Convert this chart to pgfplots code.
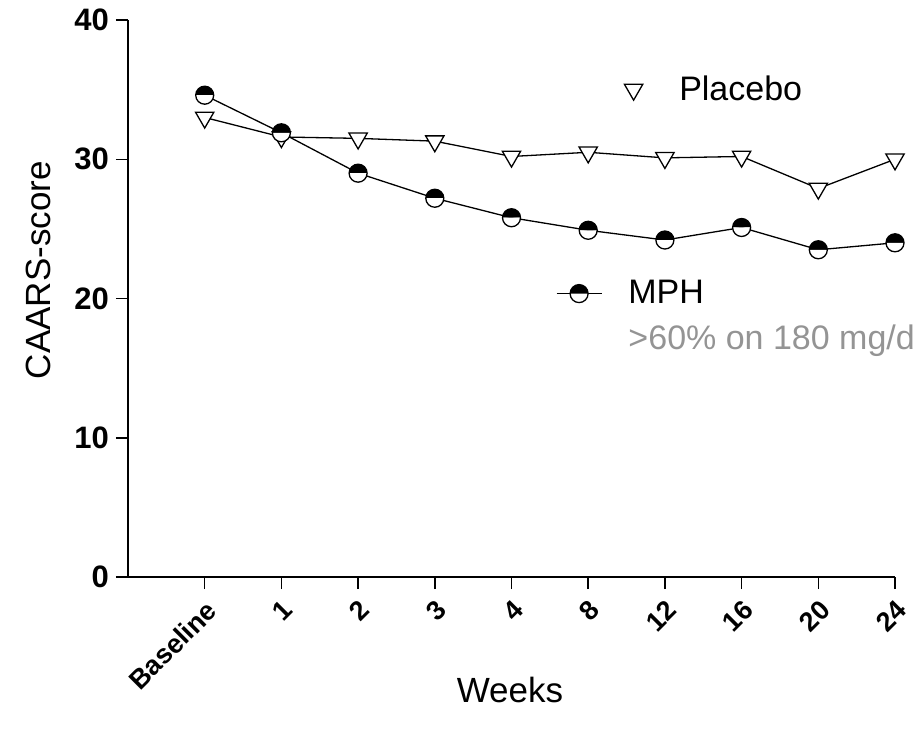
\documentclass[border=0pt]{standalone}
\usepackage{pgfplots}
\pgfplotsset{compat=1.18}
\usepackage{fontspec}
\setmainfont{Liberation Sans}
\usetikzlibrary{plotmarks}

\pgfplotsset{
  placebo legend/.style={legend image code/.code={\draw[##1, overlay] plot coordinates {(38.5pt,0pt)};}},
  mph legend/.style={legend image code/.code={\draw[mark repeat=2, mark phase=2, ##1]
        plot coordinates {(0pt,0pt) (11.25pt,0pt) (22.5pt,0pt)};}},
}

\begin{document}
\begin{tikzpicture}
\begin{axis}[
    name=ax,
    scale only axis,
    clip=false,
    width=383.5pt, height=278.5pt,
    xmin=-1, xmax=9, ymin=0, ymax=40,
    axis x line*=bottom, axis y line*=left,
    axis line style={line width=0.75pt},
    tick style={line width=0.75pt, black},
    tick align=outside,
    major tick length=6pt,
    xtick={0,...,9},
    xticklabels={Baseline,1,2,3,4,8,12,16,20,24},
    ytick={0,10,20,30,40},
    /pgf/number format/assume math mode=true,
    ticklabel style={font=\bfseries\fontsize{15.5}{17}\selectfont},
    x tick label style={rotate=45, anchor=north east, font=\bfseries\fontsize{13.5}{15}\selectfont},
    xlabel={Weeks}, ylabel={CAARS-score},
    label style={font=\fontsize{17.5}{19}\selectfont},
    xlabel style={at={(axis description cs:0.498,-0.203)}, anchor=center},
    ylabel style={at={(axis description cs:-0.117,0.551)}, anchor=center},
    legend style={draw=none, fill=none, at={(axis cs:4.496,36.6)}, anchor=north west,
        row sep=84.5pt, font=\fontsize{17}{19}\selectfont},
    legend cell align=left,
  ]

  % Placebo
  \addplot[black, line width=0.65pt, mark=triangle*, mark size=5.3pt,
      mark options={rotate=180, fill=white, draw=black}, placebo legend]
    coordinates {
      (0,33.0) (1,31.6) (2,31.5) (3,31.3) (4,30.2)
      (5,30.5) (6,30.1) (7,30.2) (8,27.9) (9,30.0)
    };
  \addlegendentry{\hspace{36.5pt}Placebo}

  % MPH
  \addplot[black, line width=0.65pt, mark=halfcircle*, mark size=4.5pt,
      mark options={fill=black, draw=black}, mph legend]
    coordinates {
      (0,34.6) (1,31.9) (2,29.0) (3,27.2) (4,25.8)
      (5,24.9) (6,24.2) (7,25.1) (8,23.5) (9,24.0)
    };
  \addlegendentry{\hspace{11pt}MPH}

  \node[anchor=west, text=black!42, font=\fontsize{17}{19}\selectfont, inner sep=0pt]
    at (axis cs:5.52,17.0) {>60\% on 180 mg/d};
\end{axis}
\pgfresetboundingbox
\path ([xshift=-64pt, yshift=-78.5pt]ax.south west) rectangle ([xshift=14pt, yshift=10pt]ax.north east);
\end{tikzpicture}
\end{document}
